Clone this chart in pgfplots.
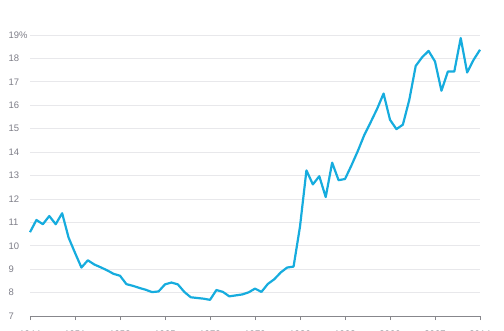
\documentclass[border=0pt]{standalone}
\usepackage{pgfplots}
\pgfplotsset{compat=1.18}
\usepackage{fontspec}
\setmainfont{Liberation Sans}
\definecolor{linec}{RGB}{22,172,222}
\definecolor{gridc}{RGB}{232,232,235}
\definecolor{labc}{RGB}{125,125,135}
\definecolor{axc}{RGB}{135,135,140}
\begin{document}
\begin{tikzpicture}
\begin{axis}[
  scale only axis,
  width=450bp, height=281bp,
  xmin=1944, xmax=2014,
  ymin=7, ymax=19,
  axis x line*=bottom,
  axis y line*=left,
  y axis line style={draw=none},
  x axis line style={axc, line width=0.8bp},
  xtick={1944,1951,1958,1965,1972,1979,1986,1993,2000,2007,2014},
  xticklabels={1944,1951,1958,1965,1972,1979,1986,1993,2000,2007,2014},
  ytick={7,8,...,19},
  yticklabels={7,8,9,10,11,12,13,14,15,16,17,18,19\%},
  tick align=outside,
  major tick length=4bp,
  xtick style={axc, line width=0.8bp},
  ytick style={draw=none},
  ymajorgrids,
  major grid style={gridc, line width=0.8bp},
  tick label style={font=\fontsize{9.5}{11}\selectfont, text=labc},
  yticklabel style={anchor=west, xshift=-21bp},
  xticklabel style={anchor=north, yshift=-7bp},
  clip=false,
]
\addplot[linec, line width=2.2bp, line join=round, no markers] coordinates {
(1944,10.58) (1945,11.1) (1946,10.92) (1947,11.27) (1948,10.92) (1949,11.39)
(1950,10.35) (1951,9.7) (1952,9.07) (1953,9.38) (1954,9.2) (1955,9.08)
(1956,8.95) (1957,8.8) (1958,8.72) (1959,8.36) (1960,8.29) (1961,8.2)
(1962,8.12) (1963,8.02) (1964,8.05) (1965,8.35) (1966,8.43) (1967,8.35)
(1968,8.03) (1969,7.8) (1970,7.77) (1971,7.74) (1972,7.69) (1973,8.11)
(1974,8.03) (1975,7.84) (1976,7.88) (1977,7.92) (1978,8.01) (1979,8.17)
(1980,8.03) (1981,8.37) (1982,8.57) (1983,8.86) (1984,9.07) (1985,9.11)
(1986,10.82) (1987,13.22) (1988,12.62) (1989,12.97) (1990,12.08) (1991,13.55)
(1992,12.8) (1993,12.85) (1994,13.43) (1995,14.05) (1996,14.73) (1997,15.28)
(1998,15.85) (1999,16.5) (2000,15.38) (2001,14.98) (2002,15.17) (2003,16.23)
(2004,17.68) (2005,18.05) (2006,18.32) (2007,17.87) (2008,16.62) (2009,17.44)
(2010,17.44) (2011,18.87) (2012,17.4) (2013,17.94) (2014,18.37)
};
\coordinate (sw) at (rel axis cs:0,0);
\coordinate (ne) at (rel axis cs:1,1);
\end{axis}
\pgfresetboundingbox
\path ([xshift=-30bp,yshift=-14bp]sw) rectangle ([xshift=24bp,yshift=35bp]ne);
\end{tikzpicture}
\end{document}
